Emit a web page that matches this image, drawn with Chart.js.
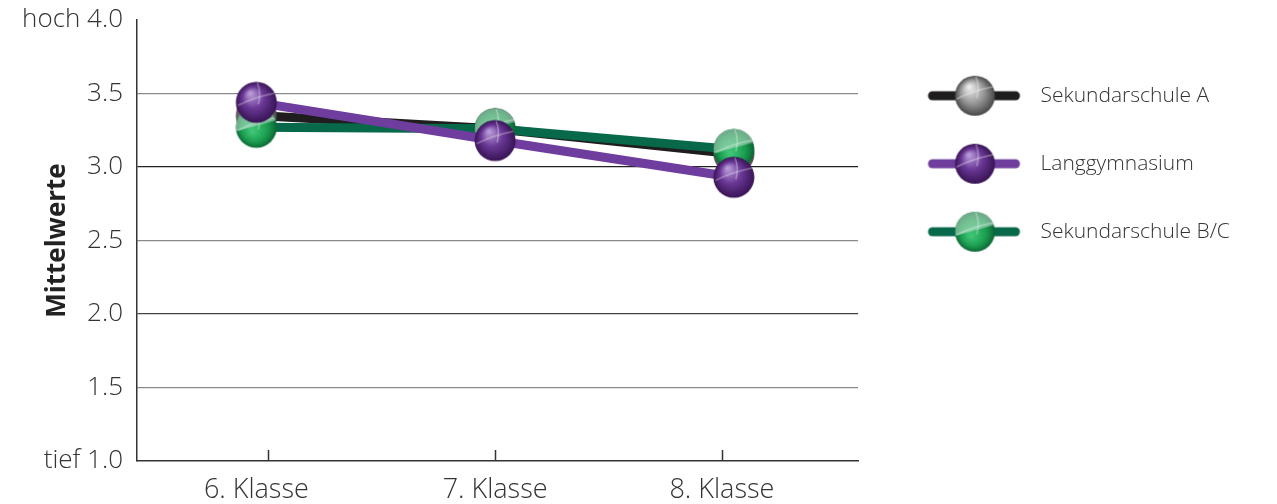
<!DOCTYPE html>
<html><head><meta charset="utf-8">
<script src="https://cdn.jsdelivr.net/npm/chart.js@4/dist/chart.umd.min.js"></script>
<style>html,body{margin:0;padding:0;background:#fff}#wrap{width:1277px;height:504px}</style>
</head><body><div id="wrap"><canvas id="c" width="1277" height="504"></canvas></div>
<script>
// ---- data ----
const categories = ['6. Klasse', '7. Klasse', '8. Klasse'];
const seriesNames = ['Sekundarschule A', 'Langgymnasium', 'Sekundarschule B/C'];
const sekundarschuleA = [3.35, 3.26, 3.09];
const langgymnasium = [3.44, 3.18, 2.93];
const sekundarschuleBC = [3.27, 3.26, 3.12];
const yTickValues = [1.0, 1.5, 2.0, 2.5, 3.0, 3.5, 4.0];
const yTickLabels = ['tief 1.0', '1.5', '2.0', '2.5', '3.0', '3.5', 'hoch 4.0'];
const yAxisTitle = 'Mittelwerte';

// ---- styling helpers ----
const FONT = "'Open Sans', 'DejaVu Sans', sans-serif";
const BALL_R = 20.5;
const LEGEND_WIDTH = 419;

function drawBall(g, cx, cy, r, kind) {
  let grad;
  g.save();
  g.beginPath(); g.arc(cx, cy, r, 0, Math.PI * 2); g.closePath();
  if (kind === 'gray') {
    grad = g.createRadialGradient(cx - r * 0.3, cy - r * 0.45, r * 0.05, cx, cy, r);
    grad.addColorStop(0, '#ececec'); grad.addColorStop(0.55, '#999999'); grad.addColorStop(1, '#484848');
  } else if (kind === 'purple') {
    grad = g.createRadialGradient(cx - r * 0.3, cy - r * 0.45, r * 0.05, cx, cy, r);
    grad.addColorStop(0, '#b99bd8'); grad.addColorStop(0.5, '#6a3896'); grad.addColorStop(1, '#381354');
  } else {
    grad = g.createRadialGradient(cx - r * 0.2, cy + r * 0.2, r * 0.05, cx, cy, r * 1.05);
    grad.addColorStop(0, '#40c676'); grad.addColorStop(0.6, '#1a9c4f'); grad.addColorStop(1, '#0b5e31');
  }
  g.fillStyle = grad; g.fill();
  g.clip();
  if (kind === 'green') {
    g.beginPath();
    g.moveTo(cx - r, cy + r * 0.2);
    g.quadraticCurveTo(cx, cy - r * 0.05, cx + r, cy - r * 0.35);
    g.lineTo(cx + r, cy - r); g.lineTo(cx - r, cy - r); g.closePath();
    g.fillStyle = 'rgba(190,225,205,0.55)'; g.fill();
  }
  g.strokeStyle = 'rgba(255,255,255,0.35)'; g.lineWidth = 1.5;
  g.beginPath(); g.moveTo(cx - r * 0.9, cy + r * 0.15);
  g.quadraticCurveTo(cx - r * 0.1, cy - r * 0.25, cx + r * 0.9, cy - r * 0.45); g.stroke();
  g.beginPath(); g.moveTo(cx + r * 0.05, cy - r * 0.95);
  g.quadraticCurveTo(cx + r * 0.25, cy - r * 0.5, cx + r * 0.1, cy + r * 0.1); g.stroke();
  g.restore();
}
function ballImage(kind) {
  const s = 46;
  const c = document.createElement('canvas'); c.width = s; c.height = s;
  drawBall(c.getContext('2d'), s / 2, s / 2, BALL_R, kind);
  return c;
}
function legendImage(kind, lineColor) {
  const W = 112, H = 46;
  const c = document.createElement('canvas'); c.width = W; c.height = H;
  const g = c.getContext('2d');
  g.strokeStyle = lineColor; g.lineWidth = 9; g.lineCap = 'round';
  g.beginPath(); g.moveTo(21, H / 2); g.lineTo(104, H / 2); g.stroke();
  drawBall(g, 63.5, H / 2, 20, kind);
  return c;
}

const styles = [
  { line: '#1f1d1e', kind: 'gray', order: 3 },
  { line: '#6e3d9e', kind: 'purple', order: 1 },
  { line: '#08694a', kind: 'green', order: 2 },
];
const seriesValues = [sekundarschuleA, langgymnasium, sekundarschuleBC];

const datasets = seriesValues.map((vals, i) => ({
  label: seriesNames[i],
  data: vals.map((v, j) => ({ x: j + 1, y: v })),
  borderColor: styles[i].line,
  backgroundColor: styles[i].line,
  borderWidth: 9,
  pointBorderWidth: 0,
  pointStyle: ballImage(styles[i].kind),
  legendImg: legendImage(styles[i].kind, styles[i].line),
  order: styles[i].order,
  tension: 0,
}));

// label / tick mark positions on the x scale (layout only)
const xLabelPos = [1, 2, 2.95];
const xTickMarkPos = [1.05, 2, 2.95];

const tickMarks = {
  id: 'tickMarks',
  afterDraw(chart) {
    const { ctx, scales: { x }, chartArea } = chart;
    ctx.save();
    ctx.strokeStyle = '#333'; ctx.lineWidth = 1.5;
    xTickMarkPos.forEach(v => {
      const px = Math.round(x.getPixelForValue(v)) + 0.5;
      ctx.beginPath(); ctx.moveTo(px, chartArea.bottom); ctx.lineTo(px, chartArea.bottom - 11); ctx.stroke();
    });
    ctx.restore();
  }
};

const legendWidthFix = {
  id: 'legendWidthFix',
  beforeLayout(chart) {
    const lg = chart.legend;
    if (lg && !lg._wfix) {
      const f = lg.fit;
      lg.fit = function () { f.call(this); this.width = LEGEND_WIDTH; };
      lg._wfix = true;
    }
  }
};

new Chart(document.getElementById('c'), {
  type: 'line',
  data: { datasets },
  plugins: [tickMarks, legendWidthFix],
  options: {
    responsive: false,
    animation: false,
    devicePixelRatio: 1,
    layout: { autoPadding: false, padding: { top: 20, right: 0, left: 0, bottom: 0 } },
    plugins: {
      tooltip: { enabled: false },
      legend: {
        position: 'right',
        align: 'start',
        title: { display: true, text: '', font: { size: 1 }, padding: { top: 17, bottom: 0 } },
        labels: {
          usePointStyle: true,
          pointStyleWidth: 125,
          padding: 47,
          color: '#333',
          font: { family: FONT, size: 21, weight: '300' },
          sort: (a, b) => a.datasetIndex - b.datasetIndex,
          generateLabels(chart) {
            return chart.data.datasets.map((d, i) => ({
              text: d.label, pointStyle: d.legendImg, datasetIndex: i,
              fillStyle: d.borderColor, strokeStyle: d.borderColor, lineWidth: 0, hidden: false,
              fontColor: '#333'
            }));
          }
        }
      }
    },
    elements: { point: { radius: BALL_R, hoverRadius: BALL_R, hitRadius: 0 } },
    scales: {
      x: {
        type: 'linear',
        min: 0.5, max: 3.52,
        afterBuildTicks(s) { s.ticks = xLabelPos.map(v => ({ value: v })); },
        afterFit(s) { s.height = 43; },
        ticks: {
          autoSkip: false, maxRotation: 0, padding: 5, color: '#333',
          font: { family: FONT, size: 27, weight: '300' },
          callback: (v, i) => categories[i]
        },
        grid: { display: false },
        border: { display: true, color: '#333', width: 1.5 }
      },
      y: {
        min: 1, max: 4,
        afterBuildTicks(s) { s.ticks = yTickValues.map(v => ({ value: v })); },
        afterFit(s) { s.width = 137; s.paddingTop = 0; s.paddingBottom = 0; },
        ticks: {
          padding: 14, color: '#333',
          font: { family: FONT, size: 26, weight: '300', lineHeight: 0.4 },
          callback: (v) => yTickLabels[yTickValues.indexOf(v)]
        },
        title: {
          display: true, text: yAxisTitle, color: '#222',
          font: { family: FONT, size: 26, weight: 'bold' },
          padding: { top: 42, bottom: 0 }
        },
        grid: {
          drawTicks: false,
          color: (c) => {
            const v = c.tick && c.tick.value;
            if (v === 4 || v === 1) return 'rgba(0,0,0,0)';
            if (v === 3) return '#222';
            if (v === 2) return '#444';
            return '#8a8a8a';
          },
          lineWidth: 1.2
        },
        border: { display: true, color: '#333', width: 1.5 }
      }
    }
  }
});
</script>
</body></html>
